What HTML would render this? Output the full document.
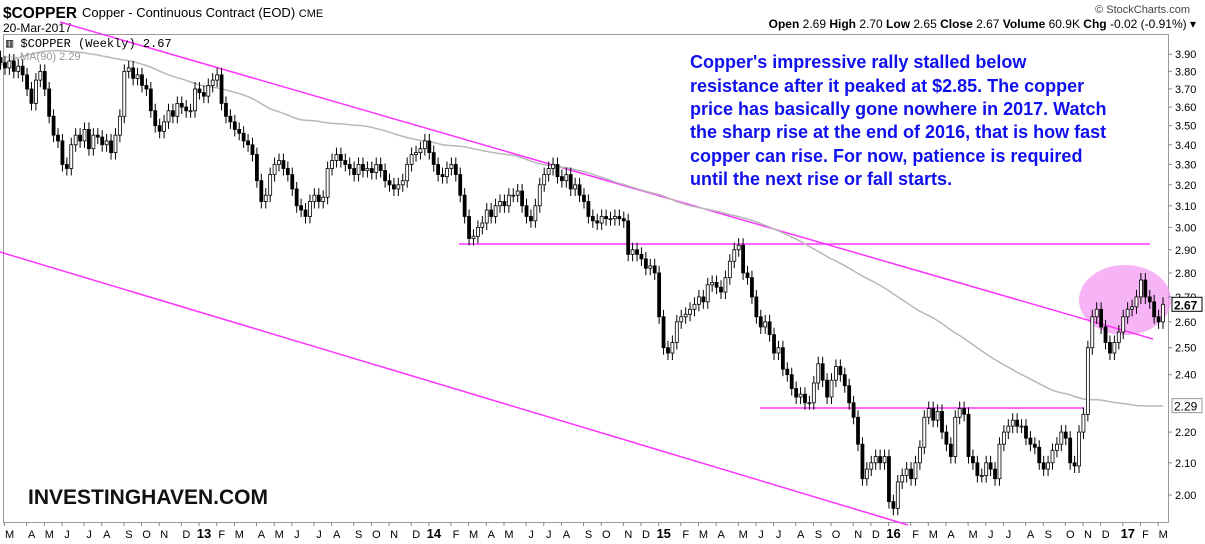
<!DOCTYPE html>
<html><head><meta charset="utf-8"><style>
body{margin:0;background:#fff;width:1205px;height:544px;overflow:hidden;font-family:"Liberation Sans",sans-serif}
svg{position:absolute;left:0;top:0}
</style></head><body>
<svg id="chart" width="1205" height="544" viewBox="0 0 1205 544">
<g>
<text x="3" y="18" font-size="16" font-weight="bold" fill="#000" textLength="74" lengthAdjust="spacingAndGlyphs">$COPPER</text>
<text x="82" y="17" font-size="13" fill="#000">Copper - Continuous Contract (EOD) <tspan font-size="11">CME</tspan></text>
<text x="3" y="32" font-size="12" fill="#000">20-Mar-2017</text>
<text x="1190" y="13" font-size="11" fill="#444" text-anchor="end">© StockCharts.com</text>
<text x="1196" y="28" font-size="12" text-anchor="end" fill="#000"><tspan font-weight="bold">Open</tspan> 2.69 <tspan font-weight="bold">High</tspan> 2.70 <tspan font-weight="bold">Low</tspan> 2.65 <tspan font-weight="bold">Close</tspan> 2.67 <tspan font-weight="bold">Volume</tspan> 60.9K <tspan font-weight="bold">Chg</tspan> -0.02 (-0.91%) ▾</text>
</g>
<rect x="3.5" y="34.5" width="1165" height="488" fill="none" stroke="#999"/>
<g id="marks"></g>
<g id="axis"></g>
<text x="6" y="47" font-size="12" font-family="Liberation Mono,monospace" fill="#000">▥ $COPPER (Weekly) 2.67</text>
<text x="6" y="60" font-size="11" fill="#999">— MA(90) 2.29</text>
<g font-size="18" font-weight="bold" fill="#1010ee">
<text x="690" y="68">Copper's impressive rally stalled below</text>
<text x="690" y="92">resistance after it peaked at $2.85. The copper</text>
<text x="690" y="115">price has basically gone nowhere in 2017. Watch</text>
<text x="690" y="138">the sharp rise at the end of 2016, that is how fast</text>
<text x="690" y="162">copper can rise. For now, patience is required</text>
<text x="690" y="185">until the next rise or fall starts.</text>
</g>
<text x="28" y="504" font-size="21" font-weight="bold" fill="#111">INVESTINGHAVEN.COM</text>
</svg>
<script>
const monthLabels=["M","A","M","J","J","A","S","O","N","D","13","F","M","A","M","J","J","A","S","O","N","D","14","F","M","A","M","J","J","A","S","O","N","D","15","F","M","A","M","J","J","A","S","O","N","D","16","F","M","A","M","J","J","A","S","O","N","D","17","F","M"];
const weeklyCloses=[
[3.85,3.82,3.86,3.80,3.83],[3.78,3.70,3.62,3.75],[3.80,3.70,3.55,3.45],[3.42,3.30,3.28,3.40,3.45],[3.42,3.48,3.38,3.45],[3.44,3.40,3.42,3.36,3.45],[3.55,3.80,3.82,3.76],[3.78,3.72,3.70,3.58],[3.50,3.47,3.52,3.58,3.55],[3.62,3.60,3.58,3.58],
[3.70,3.68,3.66,3.72],[3.75,3.78,3.62,3.55],[3.52,3.48,3.46,3.42,3.40],[3.35,3.22,3.12,3.15],[3.25,3.30,3.32,3.28],[3.25,3.18,3.10,3.08,3.05],[3.12,3.15,3.12,3.14],[3.28,3.32,3.35,3.32,3.30],[3.28,3.25,3.30,3.27],[3.28,3.26,3.30,3.27],[3.22,3.20,3.18,3.20,3.22],[3.30,3.35,3.36,3.38],
[3.42,3.36,3.30,3.25,3.24],[3.28,3.30,3.25,3.15],[3.05,2.95,2.96,3.00],[3.02,3.08,3.05,3.10],[3.12,3.10,3.15,3.15,3.17],[3.10,3.05,3.03,3.10],[3.20,3.25,3.28,3.30],[3.24,3.22,3.25,3.18,3.20],[3.15,3.12,3.05,3.03],[3.02,3.05,3.04,3.04,3.05],[3.04,3.03,2.88,2.90],[2.88,2.86,2.82,2.83],
[2.80,2.62,2.50,2.48,2.52],[2.60,2.62,2.63,2.65],[2.67,2.70,2.68,2.75],[2.76,2.74,2.72,2.78,2.85],[2.90,2.92,2.80,2.78],[2.70,2.62,2.58,2.60],[2.55,2.48,2.50,2.42,2.40],[2.35,2.32,2.33,2.30],[2.30,2.37,2.44,2.38],[2.32,2.38,2.43,2.40,2.36],[2.30,2.25,2.16,2.05],[2.08,2.10,2.12,2.10],
[2.12,1.98,1.96,2.04,2.06],[2.08,2.05,2.10,2.15],[2.25,2.28,2.24,2.27],[2.20,2.16,2.12,2.25,2.28],[2.26,2.12,2.10,2.06],[2.06,2.10,2.08,2.05],[2.16,2.20,2.22,2.24,2.22],[2.22,2.18,2.16,2.15],[2.10,2.08,2.10,2.14,2.16],[2.20,2.18,2.10,2.09],[2.20,2.26,2.50,2.62],[2.65,2.58,2.52,2.48,2.52],
[2.56,2.62,2.65,2.66],[2.70,2.77,2.70,2.68],[2.62,2.60,2.67]];
const priorCloses=[2.85,2.80,2.90,2.95,2.92,3.00,3.10,3.20,3.30,3.28,3.35,3.30,3.40,3.45,3.50,3.55,3.62,3.70,3.75,3.80,3.75,3.85,3.90,3.85,3.80,3.90,4.05,4.10,4.25,4.30,4.40,4.35,4.40,4.45,4.50,4.55,4.50,4.45,4.40,4.30,4.20,4.35,4.40,4.45,4.30,4.25,4.20,4.00,4.05,4.10,4.15,4.05,4.10,4.05,4.20,4.25,4.35,4.40,4.45,4.40,4.45,4.10,4.00,4.05,4.05,4.10,3.90,3.60,3.30,3.25,3.30,3.40,3.55,3.60,3.55,3.45,3.40,3.55,3.50,3.45,3.40,3.45,3.65,3.70,3.80,3.85,3.80,3.82,3.88];
const yTicks=[2.00,2.10,2.20,2.40,2.50,2.60,2.70,2.80,2.90,3.00,3.10,3.20,3.30,3.40,3.50,3.60,3.70,3.80,3.90];
const lastClose=2.67, lastMA=2.29;

const NS="http://www.w3.org/2000/svg";
const closes=weeklyCloses.flat();
const N=closes.length;
const yScale=p=>495-660*Math.log(p/2);
const xScale=i=>1163-(N-1-i)*4.42;
function mk(tag,attrs,parent){const e=document.createElementNS(NS,tag);for(const k in attrs)e.setAttribute(k,attrs[k]);parent.appendChild(e);return e;}
const marks=document.getElementById('marks'), axis=document.getElementById('axis');

const ell=mk('ellipse',{cx:1125,cy:300,rx:46,ry:35,fill:'#f39af3','fill-opacity':0.75},marks);


const lines=[['resistance-trendline',60,22,1153,339],['lower-channel-line',0,252,908,525],['resistance-2-90-line',459,244,1150,244],['support-2-29-line',760,408,1083,408]];
lines.forEach(l=>{const e=mk('line',{x1:l[1],y1:l[2],x2:l[3],y2:l[4],stroke:'#ff33ff','stroke-width':1.5},marks);

});

const all=priorCloses.concat(closes);
let pts=[];
for(let i=0;i<N;i++){const j=i+priorCloses.length;let s=0;for(let k=j-89;k<=j;k++)s+=all[k];pts.push(xScale(i).toFixed(1)+','+yScale(s/90).toFixed(1));}
const ma=mk('polyline',{points:pts.join(' '),fill:'none',stroke:'#b8b8b8','stroke-width':1.5},marks);



for(let i=0;i<N;i++){
 const o=i>0?closes[i-1]:priorCloses[priorCloses.length-1], c=closes[i];
 const x=xScale(i), yo=yScale(o), yc=yScale(c);
 const top=Math.min(yo,yc), bot=Math.max(yo,yc);
 const g=mk('g',{},marks);
 
 
 mk('line',{x1:x,x2:x,y1:top-7,y2:bot+7,stroke:'#000','stroke-width':1},g);
 mk('rect',{x:x-1.5,y:top,width:3,height:Math.max(1,bot-top),fill:c>=o?'#fff':'#000',stroke:'#000','stroke-width':0.8},g);
}

yTicks.forEach(v=>{const y=yScale(v);
 mk('line',{x1:1168,x2:1172,y1:y,y2:y,stroke:'#888'},axis);
 const t=mk('text',{x:1175,y:y+4,'font-size':11,fill:'#000'},axis);t.textContent=v.toFixed(2);
 
 });
[[lastClose,true],[lastMA,false]].forEach(([v,b])=>{const y=yScale(v);
 const r=mk('rect',{x:1172,y:y-7,width:30,height:14,fill:'#fff',stroke:b?'#000':'#999'},axis);
 
 
 const t=mk('text',{x:1174,y:y+5,'font-size':12,'font-weight':b?'bold':'normal',fill:'#000'},axis);t.textContent=v.toFixed(2);});

let idx=0;
weeklyCloses.forEach((m,k)=>{const x=xScale(idx);idx+=m.length;
 const yr=monthLabels[k].length>1;
 mk('line',{x1:x+4,x2:x+4,y1:522,y2:526,stroke:'#888'},axis);
 const t=mk('text',{x:x+9,y:538,'font-size':yr?13:11,'font-weight':yr?'bold':'normal','text-anchor':'middle',fill:'#000'},axis);
 t.textContent=monthLabels[k];
 
 });
</script>
</body></html>
